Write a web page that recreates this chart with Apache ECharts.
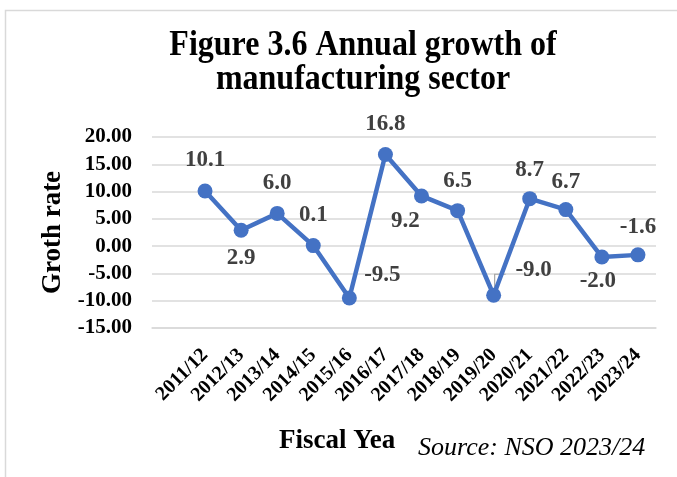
<!DOCTYPE html>
<html>
<head>
<meta charset="utf-8">
<script src="https://cdn.jsdelivr.net/npm/echarts@6/dist/echarts.min.js"></script>
<style>
  html, body { margin: 0; padding: 0; background: #fff; }
  #chart { width: 677px; height: 477px; }
</style>
</head>
<body>
<div id="chart"></div>
<script>
// Fiscal years on the horizontal axis
const fiscalYears = ['2011/12', '2012/13', '2013/14', '2014/15', '2015/16', '2016/17',
  '2017/18', '2018/19', '2019/20', '2020/21', '2021/22', '2022/23', '2023/24'];
// Annual growth rate of the manufacturing sector (%)
const growthRates = [10.1, 2.9, 6.0, 0.1, -9.5, 16.8, 9.2, 6.5, -9.0, 8.7, 6.7, -2.0, -1.6];
// Value-axis tick range and step
const yTicks = { min: -15, max: 20, step: 5 };

const titleLines = ['Figure 3.6 Annual growth of', 'manufacturing sector'];
const yName = 'Groth rate';
const xName = 'Fiscal Year';
const sourceText = 'Source: NSO 2023/24';

const serif = '"Liberation Serif", "Times New Roman", serif';
const labelGrey = '#404040';
const lineBlue = '#4472C4';
const gridGrey = '#d9d9d9';

// where each value label sits relative to its marker
const labelOffsets = [
  [0, -31], [0, 28], [0, -30], [0, -31], [33, -23], [0, -30], [-16, 25],
  [0, -30], [40, -25], [0, -29], [0, -28], [-4, 24], [0, -28]
];

const idx = fiscalYears.map((_, i) => i);
const seriesData = growthRates.map((v, i) => ({
  value: [i, v],
  label: { offset: labelOffsets[i] }
}));

const chart = echarts.init(document.getElementById('chart'), null, { renderer: 'canvas' });

// the heading is drawn a little taller than wide
function titleLine(text, y) {
  return {
    type: 'text',
    x: 363,
    y: y,
    scaleY: 1.15,
    style: {
      text: text,
      fontFamily: serif,
      fontWeight: 'bold',
      fontSize: 32,
      fill: '#000',
      align: 'center',
      verticalAlign: 'middle'
    },
    z: 10
  };
}

chart.setOption({
  backgroundColor: '#fff',
  animation: false,
  grid: { left: 152, right: 21, top: 137, bottom: 149, containLabel: false },
  xAxis: {
    type: 'value',
    min: -1.47,
    max: 12.5,
    splitLine: { show: false },
    axisLine: { show: true, onZero: false, lineStyle: { color: gridGrey, width: 1.5 } },
    axisTick: { show: false },
    axisLabel: {
      customValues: idx,
      formatter: v => fiscalYears[Math.round(v)] || '',
      rotate: 45,
      margin: 24,
      fontFamily: serif,
      fontWeight: 'bold',
      fontSize: 20,
      color: '#000'
    }
  },
  yAxis: {
    type: 'value',
    min: yTicks.min,
    max: yTicks.max,
    interval: yTicks.step,
    name: yName,
    nameLocation: 'middle',
    nameRotate: 90,
    nameGap: 80,
    nameTextStyle: {
      fontFamily: serif,
      fontWeight: 'bold',
      fontSize: 27,
      color: '#000'
    },
    axisLine: { show: false },
    axisTick: { show: false },
    splitLine: { lineStyle: { color: gridGrey, width: 1.5 } },
    axisLabel: {
      formatter: v => v.toFixed(2),
      margin: 20,
      fontFamily: serif,
      fontWeight: 'bold',
      fontSize: 21,
      color: '#000'
    }
  },
  series: [{
    type: 'line',
    data: seriesData,
    symbol: 'circle',
    symbolSize: 15,
    lineStyle: { color: lineBlue, width: 4.5 },
    itemStyle: { color: lineBlue },
    label: {
      show: true,
      position: 'inside',
      formatter: p => p.value[1].toFixed(1),
      fontFamily: serif,
      fontWeight: 'bold',
      fontSize: 23,
      color: labelGrey
    },
    z: 3
  }]
});

// leader line joining the 2019/20 value label to its marker
const leadIdx = 8;
const leadPt = chart.convertToPixel({ seriesIndex: 0 }, [leadIdx, growthRates[leadIdx]]);
const leadTurn = leadPt[1] + labelOffsets[leadIdx][1] + 4;

chart.setOption({
  graphic: [
    {
      type: 'rect',
      shape: { x: 5.5, y: 10.5, width: 700, height: 500 },
      style: { fill: 'none', stroke: gridGrey, lineWidth: 1.5 },
      silent: true
    },
    titleLine(titleLines[0], 45),
    titleLine(titleLines[1], 79),
    {
      type: 'polyline',
      shape: { points: [[leadPt[0] + 1, leadPt[1] - 5], [leadPt[0] + 1, leadTurn], [leadPt[0] + 12, leadTurn]] },
      style: { stroke: '#a6a6a6', lineWidth: 1.2, fill: 'none' },
      z: 2,
      silent: true
    },
    {
      type: 'text',
      x: 279,
      y: 441,
      style: {
        text: xName,
        fontFamily: serif,
        fontWeight: 'bold',
        fontSize: 27,
        fill: '#000',
        verticalAlign: 'middle'
      },
      z: 10
    },
    {
      type: 'rect',
      shape: { x: 396, y: 424, width: 268, height: 46 },
      style: { fill: '#fff' },
      z: 11
    },
    {
      type: 'text',
      x: 418,
      y: 448,
      style: {
        text: sourceText,
        fontFamily: serif,
        fontStyle: 'italic',
        fontSize: 26,
        fill: '#000',
        verticalAlign: 'middle'
      },
      z: 12
    }
  ]
});
</script>
</body>
</html>
